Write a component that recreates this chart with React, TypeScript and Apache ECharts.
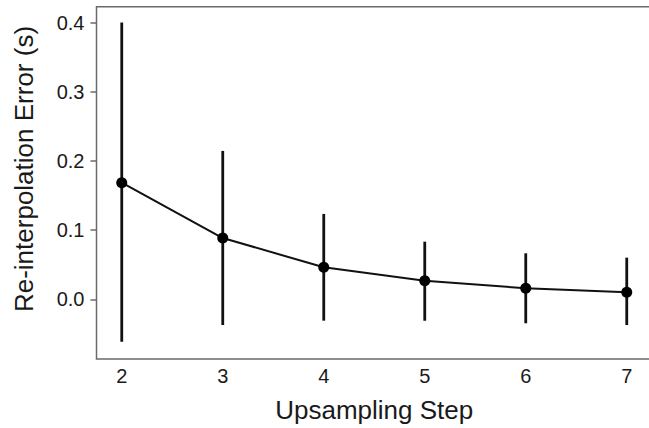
import React, { useEffect, useRef } from "react";
import * as echarts from "echarts";

const steps = [2, 3, 4, 5, 6, 7];
const meanError = [0.1686, 0.0886, 0.0463, 0.0269, 0.0159, 0.0101];
const upperError = [0.4, 0.2145, 0.1234, 0.0833, 0.0665, 0.0602];
const lowerError = [-0.0613, -0.0372, -0.0309, -0.031, -0.0347, -0.0372];
const xTicks = [2, 3, 4, 5, 6, 7];
const yTicks = [0, 0.1, 0.2, 0.3, 0.4];

const FONT = "'Liberation Sans', Arial, sans-serif";

export default function App() {
  const ref = useRef<HTMLDivElement>(null);
  useEffect(() => {
    if (!ref.current) return;
    const chart = echarts.init(ref.current, null, { renderer: "svg" });
    const option: any = {
      animation: false,
      backgroundColor: "#ffffff",
      grid: {
        left: 96.5,
        top: 6.7,
        right: -3,
        bottom: 69,
        show: true,
        borderColor: "#6a6a6a",
        borderWidth: 1.5,
        backgroundColor: "transparent",
        containLabel: false,
        outerBoundsMode: "none",
      },
      xAxis: {
        type: "value",
        min: 1.75,
        max: 7.25,
        splitLine: { show: false },
        axisLine: { show: false },
        axisTick: {
          show: true,
          length: 5,
          customValues: xTicks,
          lineStyle: { color: "#6a6a6a", width: 1.5 },
        },
        axisLabel: {
          customValues: xTicks,
          margin: 7,
          fontSize: 20,
          color: "#1a1a1a",
          fontFamily: FONT,
        },
        name: "Upsampling Step",
        nameLocation: "middle",
        nameGap: 38,
        nameTextStyle: { fontSize: 26, color: "#1a1a1a", fontFamily: FONT },
      },
      yAxis: {
        type: "value",
        min: -0.0863,
        max: 0.423,
        splitLine: { show: false },
        axisLine: { show: false },
        axisTick: {
          show: true,
          length: 6,
          customValues: yTicks,
          lineStyle: { color: "#6a6a6a", width: 1.5 },
        },
        axisLabel: {
          customValues: yTicks,
          margin: 12,
          fontSize: 20,
          color: "#1a1a1a",
          fontFamily: FONT,
          formatter: (v: number) => v.toFixed(1),
        },
      },
      graphic: [
        {
          type: "text",
          x: 23.5,
          y: 169,
          rotation: Math.PI / 2,
          style: {
            text: "Re-interpolation Error (s)",
            fontSize: 26,
            fontFamily: FONT,
            fill: "#1a1a1a",
            align: "center",
            verticalAlign: "middle",
          },
        },
      ],
      series: [
        {
          type: "custom",
          data: steps.map((s, i) => [s, lowerError[i], upperError[i]]),
          renderItem: (params: any, api: any) => {
            const x = api.value(0);
            const p1 = api.coord([x, api.value(1)]);
            const p2 = api.coord([x, api.value(2)]);
            return {
              type: "line",
              shape: { x1: p1[0], y1: p1[1], x2: p2[0], y2: p2[1] },
              style: { stroke: "#111111", lineWidth: 2.8 },
            };
          },
          z: 1,
        },
        {
          type: "line",
          data: steps.map((s, i) => [s, meanError[i]]),
          symbol: "circle",
          symbolSize: 11,
          itemStyle: { color: "#000000" },
          lineStyle: { color: "#111111", width: 2 },
          z: 3,
        },
      ],
    };
    chart.setOption(option);
    return () => chart.dispose();
  }, []);
  return (
    <div
      ref={ref}
      style={{ position: "fixed", left: 0, top: 0, width: 649, height: 428 }}
    />
  );
}
